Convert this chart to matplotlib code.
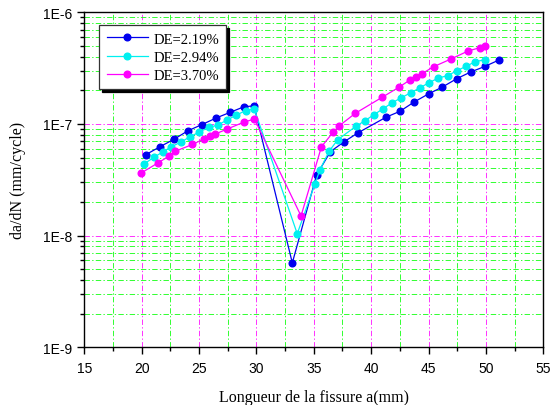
import numpy as np
import matplotlib
matplotlib.use('Agg')
from matplotlib import pyplot as plt
from matplotlib.ticker import LogLocator, FixedLocator, MultipleLocator, FuncFormatter, NullFormatter

# Vitesse de fissuration da/dN en fonction de la longueur de fissure
a_219 = [20.35, 21.6, 22.82, 24.04, 25.23, 26.48, 27.7, 28.94, 29.79, 33.13, 35.25, 36.45,
         37.65, 38.87, 41.3, 42.52, 43.73, 45.0, 46.2, 47.45, 48.67, 49.92, 51.14]
v_219 = [5.3e-8, 6.26e-8, 7.3e-8, 8.7e-8, 9.85e-8, 1.13e-7, 1.27e-7, 1.43e-7, 1.45e-7, 5.7e-9,
         3.5e-8, 5.65e-8, 6.94e-8, 8.35e-8, 1.15e-7, 1.30e-7, 1.57e-7, 1.86e-7, 2.14e-7, 2.54e-7,
         2.92e-7, 3.28e-7, 3.74e-7]

a_294 = [20.2, 21.07, 21.83, 22.6, 23.43, 24.24, 25.02, 25.84, 26.65, 27.44, 28.25, 29.07, 29.81,
         33.56, 35.1, 35.54, 36.35, 37.1, 38.65, 39.46, 40.24, 41.04, 41.8, 42.63, 43.44, 44.25,
         45.04, 45.85, 46.67, 47.48, 48.26, 49.07, 49.89]
v_294 = [4.38e-8, 5.03e-8, 5.61e-8, 6.26e-8, 6.9e-8, 7.69e-8, 8.48e-8, 9.3e-8, 9.8e-8, 1.085e-7,
         1.2e-7, 1.32e-7, 1.36e-7, 1.04e-8, 2.9e-8, 3.9e-8, 5.73e-8, 7.25e-8, 9.5e-8, 1.07e-7,
         1.21e-7, 1.37e-7, 1.54e-7, 1.72e-7, 1.9e-7, 2.11e-7, 2.34e-7, 2.58e-7, 2.71e-7, 3.0e-7,
         3.28e-7, 3.61e-7, 3.76e-7]

a_370 = [19.92, 21.45, 22.41, 22.9, 24.43, 25.43, 25.94, 26.42, 27.44, 28.92, 29.83, 33.89, 35.67,
         36.68, 37.2, 38.62, 40.94, 42.45, 43.38, 43.9, 44.43, 45.45, 46.96, 48.44, 49.46, 49.95]
v_370 = [3.62e-8, 4.5e-8, 5.17e-8, 5.69e-8, 6.55e-8, 7.36e-8, 7.83e-8, 8.13e-8, 9.0e-8, 1.04e-7,
         1.107e-7, 1.5e-8, 6.26e-8, 8.42e-8, 9.6e-8, 1.246e-7, 1.73e-7, 2.14e-7, 2.48e-7, 2.64e-7,
         2.82e-7, 3.26e-7, 3.82e-7, 4.5e-7, 4.82e-7, 4.99e-7]

labels = ['DE=2.19%', 'DE=2.94%', 'DE=3.70%']
colors = ['#0000ee', '#00f0f0', '#ff00ff']

serif = ['Liberation Serif', 'DejaVu Serif']
sans = ['Liberation Sans', 'DejaVu Sans']

fig = plt.figure(figsize=(5.6, 4.06), dpi=100)
ax = fig.add_axes([0.1505, 0.1421, 0.8196, 0.8251])

for a, v, lab, c in zip([a_219, a_294, a_370], [v_219, v_294, v_370], labels, colors):
    ax.plot(a, v, '-o', color=c, lw=0.9, ms=4.8, mec=c, mfc=c, label=lab, zorder=3)

ax.set_yscale('log')
ax.set_xlim(15, 55)
ax.set_ylim(1e-9, 1e-6)

ax.xaxis.set_major_locator(MultipleLocator(5))
ax.xaxis.set_minor_locator(MultipleLocator(2.5))
ax.yaxis.set_major_locator(FixedLocator([1e-9, 1e-8, 1e-7, 1e-6]))
ax.yaxis.set_minor_locator(LogLocator(base=10, subs=np.arange(2, 10), numticks=20))
ax.yaxis.set_major_formatter(FuncFormatter(lambda v, p: '1E%d' % round(np.log10(v))))
ax.yaxis.set_minor_formatter(NullFormatter())

# grille en tiret-point : verte (secondaire), magenta (principale)
dash = (0, (6, 2.5, 1.5, 2.5))
ax.grid(which='minor', color='#22ff22', ls=dash, lw=0.65, zorder=1)
ax.grid(which='major', color='#ff22ff', ls=dash, lw=0.65, zorder=1)
ax.set_axisbelow(True)

ax.tick_params(which='major', direction='out', length=5, width=1, labelsize=10, pad=4)
ax.tick_params(which='minor', direction='out', length=3, width=1)
ax.tick_params(axis='x', which='major', pad=5)
for t in ax.get_xticklabels() + ax.get_yticklabels():
    t.set_family(sans)
for s in ax.spines.values():
    s.set_linewidth(1)

ax.set_xlabel('Longueur de la fissure a(mm)', family=serif, fontsize=11.5, labelpad=10)
ax.set_ylabel('da/dN (mm/cycle)', family=serif, fontsize=11.5, labelpad=12)

leg = ax.legend(loc='upper left', bbox_to_anchor=(0.033, 0.962), borderaxespad=0,
                prop={'family': serif, 'size': 10.5}, fancybox=False, framealpha=1,
                edgecolor='#333333', handlelength=2.8, labelspacing=0.35,
                borderpad=0.5, handletextpad=0.4,
                shadow={'color': 'black', 'alpha': 1})
leg.get_frame().set_linewidth(0.9)

fig.savefig('out.png', dpi=100)
